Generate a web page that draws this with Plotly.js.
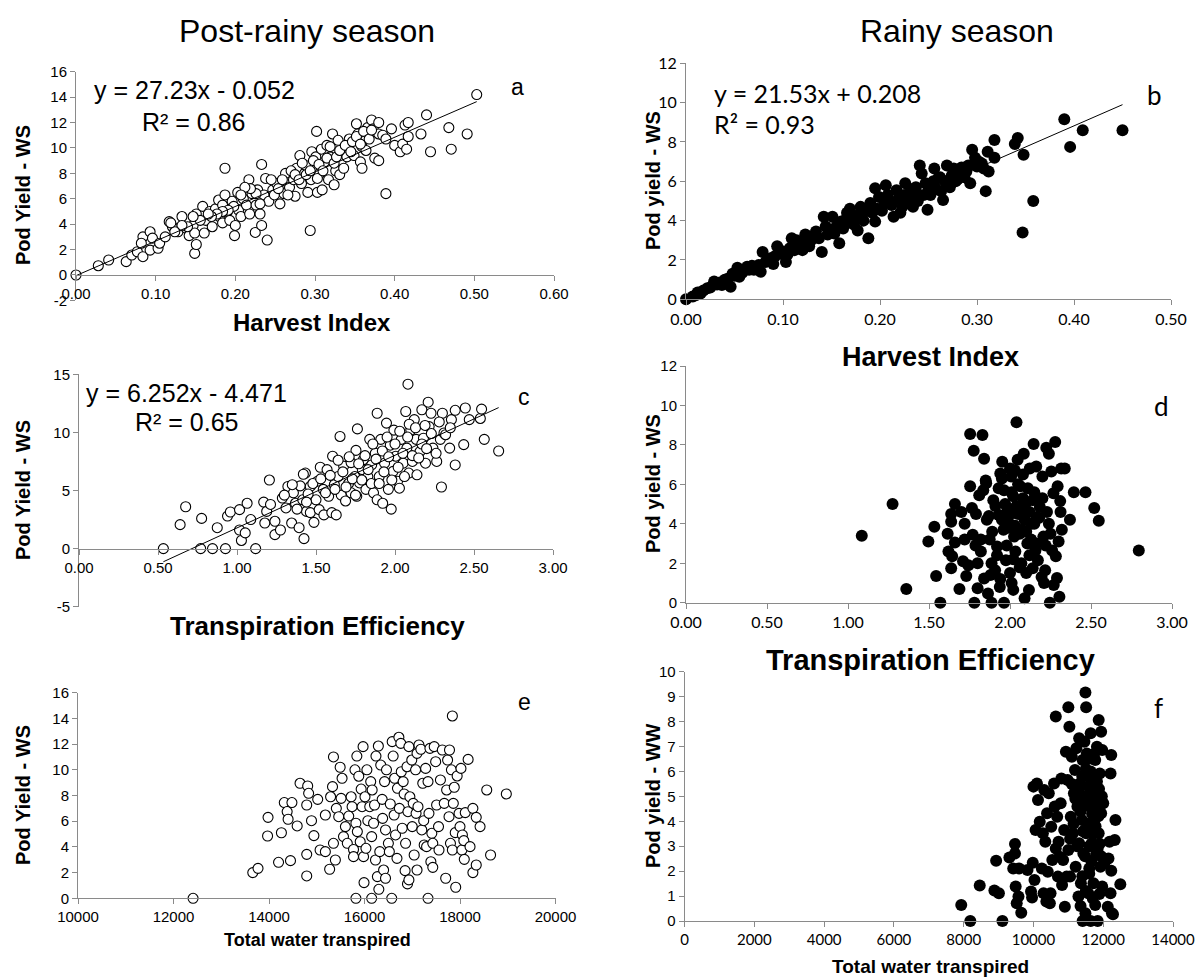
<!DOCTYPE html>
<html><head><meta charset="utf-8">
<script src="https://cdn.plot.ly/plotly-3.0.1.min.js"></script>
<style>html,body{margin:0;padding:0;background:#fff}#chart{width:1197px;height:979px}</style>
</head><body><div id="chart"></div>
<script>
// ---------- Panel a: Post-rainy, Harvest Index vs Pod Yield - WS ----------
const aHI = [
0,0.028,0.041,0.063,0.07,0.077,0.084,0.084,0.082,0.093,
0.093,0.096,0.103,0.105,0.112,0.117,0.121,0.128,0.133,0.138,
0.142,0.147,0.149,0.151,0.149,0.151,0.159,0.161,0.163,0.168,
0.171,0.175,0.179,0.180,0.184,0.184,0.187,0.187,0.190,0.193,
0.196,0.199,0.200,0.203,0.204,0.207,0.210,0.214,0.217,0.218,
0.221,0.225,0.226,0.228,0.231,0.233,0.233,0.236,0.238,0.240,
0.242,0.247,0.252,0.256,0.261,0.263,0.268,0.273,0.275,0.277,
0.281,0.283,0.287,0.289,0.291,0.294,0.295,0.296,0.300,0.301,
0.302,0.303,0.306,0.308,0.309,0.312,0.315,0.317,0.319,0.322,
0.324,0.326,0.329,0.331,0.333,0.336,0.340,0.343,0.349,0.352,
0.354,0.357,0.359,0.359,0.364,0.366,0.371,0.373,0.375,0.380,
0.380,0.385,0.389,0.396,0.400,0.407,0.410,0.413,0.415,0.417,
0.417,0.433,0.440,0.445,0.468,0.471,0.491,0.503,0.380,0.231,
0.226,0.219,0.212,0.207,0.198,0.191,0.184,0.177,0.170,0.166,
0.156,0.147,0.140,0.133,0.124,0.119,0.245,0.249,0.254,0.259,
0.266,0.270,0.275,0.280,0.284,0.289,0.294,0.298,0.303,0.305,
0.310,0.315,0.319,0.324,0.327,0.331,0.336,0.338,0.345,0.347,
0.352,0.357,0.361,0.368,0.371,0.389];
const aPY = [
0,0.73,1.18,1.05,1.57,1.83,1.44,3.0,2.5,1.96,
3.4,2.9,2.1,2.5,3.0,4.2,3.8,3.4,4.6,3.7,
3.1,3.9,1.7,2.4,3.3,4.8,5.4,3.3,4.3,5.0,
3.8,5.2,5.9,4.6,5.5,4.1,8.4,6.3,5.0,4.3,
5.8,3.1,3.9,6.5,5.1,4.6,6.0,5.5,7.5,4.8,
6.4,3.35,5.5,6.7,4.8,3.9,8.7,6.3,7.6,2.75,
5.8,6.7,7.2,5.6,6.4,8.0,6.9,7.5,6.2,8.4,
9.4,7.2,8.0,8.6,6.5,3.5,7.5,9.7,8.5,9.3,
11.3,6.5,8.0,9.9,6.7,8.9,10.2,7.5,9.3,11.1,
7.1,8.2,10.6,7.9,9.0,9.9,9.3,10.7,9.4,11.9,
11.1,8.9,10.1,8.4,9.8,11.6,12.2,11.5,9.2,12.0,
11.1,11.0,6.4,11.5,10.2,9.7,10.3,11.8,9.9,12.0,
10.9,11.1,12.6,9.7,11.6,9.9,11.1,14.2,9.0,5.6,
6.4,6.8,6.9,6.3,5.4,5.1,5.0,4.8,4.6,4.8,
4.3,4.6,3.8,3.9,3.4,4.1,7.5,6.3,6.8,7.5,
6.3,8.2,7.9,7.5,8.8,7.9,8.2,9.0,7.6,8.7,
8.2,9.2,10.1,8.8,9.3,9.8,8.4,10.2,9.7,10.5,
10.9,10.3,11.3,10.7,11.4,10.7];
const aFit = {slope: 27.23, intercept: -0.052};

// ---------- Panel b: Rainy, Harvest Index vs Pod yield - WS ----------
const bHI = [
0,0.007,0.015,0.022,0.029,0.037,0.04,0.046,0.048,0.053,
0.055,0.063,0.07,0.077,0.079,0.085,0.09,0.094,0.099,0.103,
0.107,0.109,0.114,0.12,0.123,0.129,0.134,0.14,0.142,0.144,
0.151,0.153,0.158,0.16,0.166,0.169,0.173,0.177,0.18,0.188,
0.19,0.195,0.195,0.199,0.206,0.21,0.214,0.217,0.223,0.226,
0.23,0.234,0.237,0.241,0.243,0.249,0.25,0.256,0.26,0.263,
0.265,0.269,0.272,0.276,0.28,0.284,0.289,0.293,0.295,0.298,
0.3,0.307,0.309,0.311,0.312,0.318,0.318,0.339,0.342,0.348,
0.347,0.358,0.39,0.396,0.409,0.45,
0.01,0.012,0.018,0.025,0.032,0.035,0.043,0.05,0.058,0.065,
0.068,0.075,0.082,0.088,0.092,0.097,0.101,0.105,0.11,0.112,
0.118,0.125,0.127,0.132,0.137,0.146,0.149,0.155,0.162,0.163,
0.17,0.175,0.178,0.183,0.186,0.192,0.197,0.202,0.205,0.208,
0.212,0.219,0.221,0.225,0.228,0.232,0.236,0.239,0.245,0.247,
0.252,0.255,0.258,0.262,0.267,0.274,0.278,0.283,0.287,0.291,
0.302,0.305];
const bPY = [
0,0.14,0.3,0.56,0.9,0.73,1.0,0.64,1.3,1.6,
1.15,1.65,1.5,1.4,2.4,2.0,1.8,2.7,2.3,1.9,
2.6,3.1,3.0,2.5,3.3,3.0,3.45,2.4,4.2,3.7,
4.2,3.35,2.85,3.95,4.4,4.6,3.8,3.5,4.7,3.1,
4.9,3.95,5.65,5.2,5.8,5.0,4.2,5.55,4.7,5.9,
5.2,4.7,5.7,6.8,6.4,4.55,5.7,6.65,6.15,5.5,
5.05,6.8,5.7,6.65,6.1,6.7,6.5,5.9,7.6,7.2,
6.75,6.65,5.5,7.5,6.5,7.2,8.1,7.9,8.2,7.35,
3.4,5.0,9.15,7.75,8.6,8.6,
0.2,0.35,0.45,0.6,0.75,0.85,1.05,1.2,1.35,1.5,
1.7,1.75,1.9,2.1,2.2,2.5,2.4,2.3,2.7,2.5,
2.8,2.9,2.7,3.2,3.1,3.3,3.5,3.7,3.6,4.0,
3.9,4.1,4.3,4.0,4.5,4.4,4.6,4.5,4.9,5.3,
4.8,5.1,4.4,5.3,4.9,5.6,5.4,5.0,5.3,5.9,
5.3,6.0,5.6,6.2,6.0,6.3,6.0,6.4,6.2,6.8,
7.0,6.9];
const bFit = {slope: 21.53, intercept: 0.208};

// ---------- Panel c: Post-rainy, Transpiration Efficiency vs Pod Yield - WS ----------
const cTE = [
0.534,0.64,0.675,0.77,0.776,0.845,0.875,0.927,0.94,0.958,
1.016,1.016,1.028,1.052,1.064,1.087,1.118,1.169,1.176,1.188,
1.205,1.212,1.24,1.24,1.275,1.287,1.31,1.322,1.346,1.357,
1.37,1.393,1.4,1.416,1.424,1.433,1.44,1.464,1.464,1.487,
1.5,1.51,1.52,1.527,1.546,1.55,1.57,1.58,1.6,1.605,
1.616,1.628,1.64,1.652,1.66,1.675,1.687,1.706,1.722,1.722,
1.746,1.753,1.758,1.762,1.776,1.793,1.8,1.816,1.828,1.84,
1.852,1.864,1.875,1.887,1.887,1.9,1.91,1.922,1.934,1.946,
1.958,1.97,1.976,1.988,1.993,2.005,2.016,2.028,2.04,2.052,
2.068,2.075,2.082,2.087,2.1,2.11,2.122,2.134,2.139,2.158,
2.17,2.18,2.193,2.21,2.216,2.228,2.24,2.264,2.287,2.294,
2.3,2.31,2.346,2.357,2.381,2.381,2.435,2.445,2.47,2.54,
2.548,2.565,2.656,
1.45,1.48,1.53,1.56,1.59,1.62,1.64,1.67,1.69,1.71,
1.73,1.75,1.77,1.79,1.81,1.83,1.85,1.86,1.88,1.9,
1.92,1.93,1.95,1.96,1.98,2.0,2.02,2.03,2.05,2.06,
2.08,2.09,2.11,2.13,2.15,2.17,2.19,2.2,2.23,2.26,
2.28,2.32,2.35,1.3,1.35,1.38,1.42,1.44];
const cPY = [
0,2.06,3.6,0,2.6,0,1.8,0,2.8,3.15,
3.35,1.6,0.7,1.35,3.9,2.5,0,4.0,2.2,3.2,
5.9,3.8,2.35,1.2,1.6,4.35,3.5,5.35,2.2,4.8,
3.9,1.8,5.4,4.2,0.86,6.5,3.2,5.35,3.1,2.26,
4.2,5.8,3.35,7.0,5.1,2.9,6.8,4.5,3.1,7.95,
5.5,2.9,6.2,9.65,4.6,7.1,4.1,5.6,7.4,4.8,
6.2,8.45,4.5,10.3,5.65,6.8,7.65,5.1,6.2,9.4,
7.2,4.8,8.2,11.65,4.2,6.2,9.4,3.9,7.35,10.8,
5.1,8.9,3.4,6.65,10.2,7.95,5.8,5.2,9.4,7.35,
11.8,8.65,14.15,6.5,10.2,7.5,11.1,9.4,6.35,8.35,
11.95,9.5,7.35,12.6,10.5,11.65,8.65,7.5,9.4,5.3,
11.65,9.95,8.65,11.1,7.2,11.9,8.95,12.1,11.1,11.2,
12.0,9.4,8.4,
4.7,5.6,6.0,4.8,6.3,5.1,7.6,6.6,5.3,7.9,
6.0,4.6,7.3,5.9,8.0,6.8,5.6,9.0,7.7,5.6,
8.4,6.6,9.6,7.9,5.9,9.0,7.0,10.1,8.2,6.2,
9.6,10.7,8.0,10.4,7.8,9.0,10.6,8.6,9.9,8.2,
10.9,9.8,10.4,4.6,5.5,3.4,6.4,4.0];
const cFit = {slope: 6.252, intercept: -4.471};

// ---------- Panel d: Rainy, Transpiration Efficiency vs Pod yield - WS ----------
const dTE = [
1.085,1.275,1.36,1.496,1.533,1.544,1.57,1.615,1.62,1.637,
1.637,1.643,1.637,1.66,1.66,1.688,1.7,1.71,1.72,1.72,
1.73,1.743,1.754,1.754,1.765,1.77,1.776,1.78,1.787,1.79,
1.8,1.8,1.81,1.82,1.83,1.835,1.84,1.84,1.853,1.857,
1.864,1.875,1.886,1.886,1.897,1.908,1.92,1.93,1.937,1.94,
1.952,1.96,1.963,1.963,1.975,1.985,1.997,2.007,2.01,2.02,
2.02,2.025,2.03,2.033,2.04,2.047,2.05,2.063,2.07,2.073,
2.085,2.09,2.095,2.1,2.107,2.117,2.122,2.13,2.14,2.146,
2.15,2.157,2.162,2.166,2.172,2.184,2.195,2.2,2.206,2.21,
2.217,2.224,2.228,2.24,2.246,2.25,2.255,2.26,2.268,2.27,
2.279,2.283,2.29,2.294,2.3,2.305,2.31,2.312,2.316,2.32,
2.338,2.37,2.394,2.466,2.52,2.548,2.795,
1.95,1.97,1.99,2.0,2.01,2.03,2.04,2.05,2.06,2.07,
2.08,2.09,2.1,2.11,2.12,2.13,2.14,2.15,1.93,1.91,
1.89,1.87,1.92,1.98,2.02,2.06,2.12,2.16,2.18,2.2,
2.22,2.24,1.85,1.95,2.0,2.08,1.82,1.88,1.94,2.0];
const dPY = [
3.4,5.0,0.7,3.1,3.85,1.35,0,3.5,2.6,4.5,
4.1,2.35,1.75,5.0,3.05,0.7,4.6,2.1,4.0,3.2,
1.35,1.9,8.55,5.9,4.8,3.45,7.7,0,2.9,4.5,
0.73,2.0,5.45,3.2,8.5,5.7,7.3,1.23,6.05,4.2,
0.47,3.2,0,2.0,5.2,1.65,2.85,4.45,0.8,6.55,
7.15,3.7,0,5.7,2.15,4.7,4.0,6.4,1.0,0.65,
5.4,3.35,6.7,2.6,9.15,7.25,4.5,5.9,2.0,3.7,
7.55,0.22,5.0,1.5,3.0,0.64,6.8,4.0,1.75,8.05,
5.6,2.65,6.9,4.35,2.15,4.85,1.3,6.4,3.35,1.0,
1.65,7.85,4.6,7.55,0,3.5,6.65,2.65,5.55,0.9,
8.15,2.35,1.25,5.9,3.1,0.3,5.15,4.6,6.8,3.7,
6.8,4.2,5.6,5.6,4.8,4.15,2.65,
4.2,5.0,3.8,4.5,5.6,3.9,4.9,6.0,3.5,4.7,
5.3,4.2,3.6,5.8,4.6,3.2,5.2,4.0,5.8,4.9,
3.6,4.4,2.4,2.9,2.2,1.8,2.4,3.0,4.3,5.3,
2.9,4.0,6.2,6.3,6.8,6.5,2.6,1.4,1.2,1.5];

// ---------- Panel e: Post-rainy, Total water transpired vs Pod Yield - WS ----------
const eTW = [
12410,13660,13770,13970,13980,14200,14260,14320,14380,14400,
14450,14480,14590,14650,14790,14790,14790,14810,14830,14890,
14940,15020,15070,15180,15180,15270,15290,15330,15350,15350,
15390,15410,15460,15490,15510,15530,15560,15600,15640,15670,
15720,15740,15770,15770,15800,15820,15840,15850,15880,15820,
15910,15930,15950,15970,15980,15990,16010,16030,16050,16070,
16110,16150,16130,16150,16160,16190,16210,16230,16240,16270,
16290,16300,16320,16340,16370,16380,16400,16420,16440,16440,
16460,16500,16520,16540,16570,16580,16600,16620,16630,16650,
16680,16690,16720,16730,16760,16770,16790,16810,16830,16850,
16860,16890,16900,16910,16930,16930,16950,16990,17000,17020,
17040,17070,17080,17100,17100,17120,17140,17180,17200,17220,
17240,17250,17280,17300,17330,17330,17350,17370,17390,17410,
17430,17430,17460,17490,17510,17550,17560,17590,17630,17670,
17700,17720,17740,17770,17780,17800,17820,17840,17840,17860,
17880,17900,17910,17940,17980,18000,18020,18040,18050,18080,
18090,18110,18170,18210,18270,18270,18340,18340,18420,18560,
18640,18970];
const ePY = [
0,2.0,2.33,4.85,6.3,2.8,5.1,7.45,6.75,6.15,
2.93,7.45,5.63,8.95,3.42,1.74,7.26,8.74,8.17,6.04,
4.88,7.7,3.76,3.63,6.48,2.26,7.9,8.69,11.0,4.28,
2.98,7.0,6.35,10.2,7.78,9.34,4.8,5.58,4.28,6.4,
7.9,7.13,3.8,3.24,10.0,5.84,11.07,5.19,9.5,0,
4.4,8.5,7.13,11.8,3.24,1.22,7.9,3.89,10.0,6.04,
7.13,0,9.08,4.8,8.43,5.84,7.26,2.98,11.07,1.69,
11.85,0.7,3.63,10.37,7.7,6.22,2.2,9.08,5.32,1.56,
10.0,4.28,3.63,7.34,0,12.19,11.07,6.48,9.34,4.93,
3.11,8.56,12.53,7.0,12.06,9.85,5.45,9.08,8.12,2.15,
4.28,10.24,1.12,6.74,11.8,1.43,7.9,10.76,5.58,7.39,
3.37,10.0,6.61,11.28,2.2,7.13,11.93,11.6,5.32,8.95,
6.04,4.15,10.11,4.02,0,9.08,6.61,11.67,2.85,5.06,
4.28,2.41,11.8,10.63,7.26,5.58,3.76,9.21,11.54,7.39,
1.56,8.43,10.76,6.35,11.54,4.28,10.0,14.19,3.76,7.39,
8.64,5.11,0.86,9.52,6.61,5.58,10.11,3.76,4.93,4.49,
3.03,6.67,10.81,4.02,7.0,2.0,6.3,2.59,5.58,8.43,
3.37,8.12];

// ---------- Panel f: Rainy, Total water transpired vs Pod yield - WW ----------
const fTW = [
7930,8190,8460,8880,8930,9010,9110,9310,9420,9470,
9470,9490,9520,9570,9590,9650,9830,9930,9960,9980,
10000,10030,10060,10100,10130,10180,10240,10270,10290,10310,
10340,10370,10390,10410,10440,10470,10490,10510,10540,10590,
10610,10640,10640,10680,10700,10720,10750,10780,10800,10820,
10850,10880,10900,10930,10950,10980,11000,11000,11030,11050,
11070,11100,11130,11160,11190,11210,11230,11260,11290,11310,
11310,11330,11360,11390,11410,11410,11430,11460,11460,11490,
11490,11510,11510,11530,11570,11570,11600,11620,11640,11640,
11670,11700,11720,11740,11770,11770,11800,11820,11840,11840,
11870,11870,11890,11900,11920,11940,11940,11970,11970,12000,
12030,12080,12130,12150,12180,12210,12210,12230,12230,12250,
12280,12330,12350,12490,
11300,11350,11400,11420,11450,11480,11500,11520,11540,11560,
11580,11600,11620,11640,11660,11680,11700,11720,11740,11760,
11780,11800,11820,11840,11860,11880,11900,11920,11940,11960,
11250,11200,11150,11100,11050,11400,11500,11600,11700,11350];
const fPY = [
0.64,0,1.42,1.22,2.42,1.11,0,2.55,2.11,3.09,
2.71,1.38,0.71,0.98,2.11,0.33,2.05,1.18,0.94,2.34,
5.39,1.64,3.65,5.52,4.85,3.98,2.11,3.52,1.11,5.25,
3.18,0.78,4.32,1.98,5.12,0.71,1.11,3.78,2.45,5.52,
4.59,8.2,2.91,4.18,1.78,3.18,2.58,4.72,5.72,1.44,
2.45,3.65,0.57,6.79,1.78,5.66,8.57,2.85,7.79,1.78,
4.18,6.59,3.52,5.12,6.06,2.18,6.93,4.59,0.98,7.33,
3.12,5.52,1.51,4.05,0,6.46,2.71,4.99,7.19,9.17,
0.31,8.57,3.52,6.72,1.11,5.79,2.11,4.59,7.53,0,
3.12,5.39,1.51,4.05,6.46,0.64,2.71,6.99,4.99,0,
8.06,3.52,1.08,5.92,2.18,7.59,4.32,6.86,1.38,4.72,
2.31,2.45,0.57,2.51,3.18,5.92,1.11,2.02,6.66,0.31,
0.27,3.25,4.05,1.47,
5.2,4.4,5.8,3.6,4.8,2.6,6.1,5.0,3.9,6.5,
5.4,3.0,4.9,6.0,2.4,4.3,5.9,3.5,6.7,5.1,
3.8,4.6,5.6,2.9,4.2,5.3,3.1,4.8,2.6,5.0,
3.0,4.9,3.9,5.5,3.3,1.8,1.2,1.9,0.9,0.6];

// ---------- tick labels ----------
const aYTicks = [-2,0,2,4,6,8,10,12,14,16];
const aYText  = ['-2','0','2','4','6','8','10','12','14','16'];
const cYTicks = [-5,0,5,10,15];
const cYText  = ['-5','0','5','10','15'];

// ---------- texts ----------
const titles = {left: 'Post-rainy season', right: 'Rainy season'};
const eqA = ['y = 27.23x - 0.052', 'R² = 0.86'];
const eqB = ['y = 21.53x + 0.208', 'R² = 0.93'];
const eqC = ['y = 6.252x - 4.471', 'R² = 0.65'];

// ===================== drawing =====================
const W = 1197, H = 979;
const px = p => p / W;
const py = p => 1 - p / H;
const FA = 'Liberation Sans, Arial, sans-serif';
const FC = 'Lato, Carlito, Calibri, sans-serif';

function fitLine(xs, fit, xa, ya) {
  const lo = Math.min(...xs), hi = Math.max(...xs);
  return {x: [lo, hi], y: [fit.slope * lo + fit.intercept, fit.slope * hi + fit.intercept],
    mode: 'lines', line: {color: '#000', width: 1}, xaxis: xa, yaxis: ya,
    hoverinfo: 'skip', showlegend: false, cliponaxis: false};
}
const openM = {size: 10, color: '#fff', line: {color: '#000', width: 1.1}};
const fillM = {size: 12, color: '#000', line: {width: 0}};
function pts(x, y, m, xa, ya) {
  return {x: x, y: y, mode: 'markers', type: 'scatter', marker: m, xaxis: xa, yaxis: ya,
    showlegend: false, cliponaxis: false};
}
const traces = [
  pts(aHI, aPY, openM, 'x', 'y'), fitLine(aHI, aFit, 'x', 'y'),
  pts(bHI, bPY, fillM, 'x2', 'y2'), fitLine(bHI, bFit, 'x2', 'y2'),
  pts(cTE, cPY, openM, 'x3', 'y3'), fitLine(cTE, cFit, 'x3', 'y3'),
  pts(dTE, dPY, fillM, 'x4', 'y4'),
  pts(eTW, ePY, openM, 'x5', 'y5'),
  pts(fTW, fPY, fillM, 'x6', 'y6')
];

function ax(o, fam, size) {
  return Object.assign({
    showline: true, linecolor: '#8a8a8a', linewidth: 1, mirror: false,
    ticks: 'outside', ticklen: 5, tickcolor: '#8a8a8a', tickwidth: 1,
    showgrid: false, zeroline: false, fixedrange: true,
    tickfont: {family: fam, size: size, color: '#000'}
  }, o);
}

const layout = {
  width: W, height: H, margin: {l: 0, r: 0, t: 0, b: 0},
  paper_bgcolor: '#fff', plot_bgcolor: 'rgba(0,0,0,0)', showlegend: false,
  xaxis:  ax({domain: [px(76), px(554)], range: [0, 0.6], dtick: 0.1, tickformat: '.2f', anchor: 'free', position: py(275)}, FA, 15),
  yaxis:  ax({domain: [py(300.4), py(71.7)], range: [-2, 16], tickvals: aYTicks, ticktext: aYText, anchor: 'x'}, FA, 15),
  xaxis2: ax({domain: [px(686), px(1171)], range: [0, 0.5], dtick: 0.1, tickformat: '.2f', anchor: 'y2'}, FC, 16),
  yaxis2: ax({domain: [py(299.3), py(63.3)], range: [0, 12], dtick: 2, anchor: 'x2'}, FC, 16),
  xaxis3: ax({domain: [px(79), px(553)], range: [0, 3], dtick: 0.5, tickformat: '.2f', anchor: 'free', position: py(549)}, FA, 15),
  yaxis3: ax({domain: [py(606.7), py(374.3)], range: [-5, 15], tickvals: cYTicks, ticktext: cYText, anchor: 'x3'}, FA, 15),
  xaxis4: ax({domain: [px(686), px(1172)], range: [0, 3], dtick: 0.5, tickformat: '.2f', anchor: 'y4'}, FC, 16),
  yaxis4: ax({domain: [py(602.7), py(366)], range: [0, 12], dtick: 2, anchor: 'x4'}, FA, 15),
  xaxis5: ax({domain: [px(78), px(555.5)], range: [10000, 20000], dtick: 2000, tickformat: 'd', anchor: 'y5'}, FA, 15),
  yaxis5: ax({domain: [py(898.3), py(692.7)], range: [0, 16], dtick: 2, anchor: 'x5'}, FA, 15),
  xaxis6: ax({domain: [px(684.6), px(1173)], range: [0, 14000], dtick: 2000, tickformat: 'd', anchor: 'y6'}, FC, 15),
  yaxis6: ax({domain: [py(921), py(671.7)], range: [0, 10], dtick: 1, anchor: 'x6'}, FA, 15),
  annotations: []
};

function note(text, x, y, size, opts) {
  layout.annotations.push(Object.assign({
    text: text, x: px(x), y: py(y), xref: 'paper', yref: 'paper',
    xanchor: 'center', yanchor: 'middle', showarrow: false,
    font: {family: FA, size: size, color: '#000'}
  }, opts || {}));
}
const bold = t => '<b>' + t + '</b>';
const calib = s => ({font: {family: FC, size: s, color: '#000'}});
// column titles
note(titles.left, 307, 31, 32);
note(titles.right, 957, 31, 32);
// equations
note(eqA[0], 194, 90, 25);
note(eqA[1], 194, 122, 25);
note(eqB[0], 712, 93, 25, Object.assign({xanchor: 'left'}, calib(25)));
note(eqB[1], 712, 124, 25, Object.assign({xanchor: 'left'}, calib(25)));
note(eqC[0], 186, 393, 25);
note(eqC[1], 187, 422, 25);
// panel letters
note('a', 517, 87, 23);
note('b', 1154, 95, 26, calib(26));
note('c', 524, 397, 23);
note('d', 1161, 406, 26, calib(26));
note('e', 524, 702, 23);
note('f', 1158, 708, 26, calib(26));
// x-axis titles
note(bold('Harvest Index'), 312, 322, 24);
note(bold('Harvest Index'), 930, 357, 27);
note(bold('Transpiration Efficiency'), 317, 626, 26);
note(bold('Transpiration Efficiency'), 930, 660, 29);
note(bold('Total water transpired'), 317, 940, 18);
note(bold('Total water transpired'), 930, 966, 19);
// y-axis titles
note(bold('Pod Yield - WS'), 23, 195, 20, {textangle: -90});
note(bold('Pod yield - WS'), 653, 181, 20, {textangle: -90});
note(bold('Pod Yield - WS'), 23, 490, 20, {textangle: -90});
note(bold('Pod yield - WS'), 653, 484, 20, {textangle: -90});
note(bold('Pod Yield - WS'), 23, 795, 20, {textangle: -90});
note(bold('Pod yield - WW'), 653, 796, 20, {textangle: -90});

Plotly.newPlot('chart', traces, layout, {staticPlot: true, displayModeBar: false});
</script>
</body></html>
